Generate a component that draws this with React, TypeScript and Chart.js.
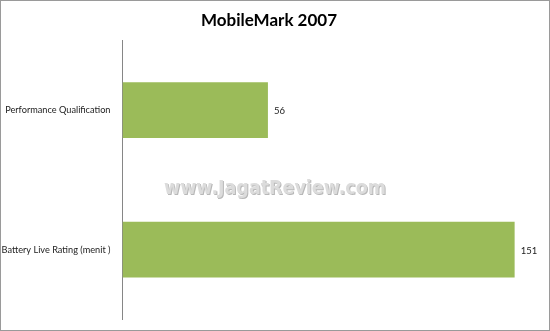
import React, { useEffect, useRef } from "react";
import { Chart, registerables } from "chart.js";

Chart.register(...registerables);

const categories = ["Performance Qualification", "Battery Live Rating (menit )"];
const values = [56, 151];
const titleText = "MobileMark 2007";
const watermarkText = "www.JagatReview.com";
const barColor = "#9BBB59";

export default function App() {
  const ref = useRef<HTMLCanvasElement | null>(null);
  useEffect(() => {
    document.body.style.margin = "0";
    const canvas = ref.current!;
    const framePlugin = {
      id: "frame",
      beforeDraw(chart: any) {
        const ctx = chart.ctx;
        ctx.save();
        ctx.fillStyle = "#ffffff";
        ctx.fillRect(0, 0, chart.width, chart.height);
        ctx.restore();
      },
      afterDraw(chart: any) {
        const ctx = chart.ctx;
        ctx.save();
        ctx.strokeStyle = "#9a9a9a";
        ctx.lineWidth = 1;
        ctx.strokeRect(0.5, 0.5, chart.width - 1, chart.height - 1);
        ctx.restore();
      },
    };
    const labelPlugin = {
      id: "valueLabels",
      afterDatasetsDraw(chart: any) {
        const ctx = chart.ctx;
        const meta = chart.getDatasetMeta(0);
        ctx.save();
        ctx.font = "9.5px Lato";
        ctx.fillStyle = "#222222";
        ctx.textAlign = "left";
        ctx.textBaseline = "middle";
        meta.data.forEach((bar: any, i: number) => {
          ctx.fillText(String(values[i]), bar.x + 6, bar.y + 1);
        });
        // watermark
        const cy = (chart.chartArea.top + chart.chartArea.bottom) / 2 + 9;
        ctx.font = "bold 19px 'DejaVu Sans'";
        ctx.textAlign = "center";
        ctx.textBaseline = "middle";
        ctx.fillStyle = "#b8b8b8";
        ctx.fillText(watermarkText, 276, cy + 1, 222);
        ctx.fillStyle = "#dcdcdc";
        ctx.fillText(watermarkText, 275, cy, 222);
        ctx.restore();
      },
    };
    const chart = new Chart(canvas, {
      type: "bar",
      data: {
        labels: categories,
        datasets: [
          {
            data: values,
            backgroundColor: barColor,
            borderWidth: 0,
            categoryPercentage: 1,
            barPercentage: 0.4,
          },
        ],
      },
      options: {
        indexAxis: "y",
        animation: false,
        responsive: false,
        layout: { padding: { top: 0, right: 12, bottom: 11.7, left: 0 } },
        plugins: {
          legend: { display: false },
          tooltip: { enabled: false },
          title: {
            display: true,
            text: titleText,
            color: "#000000",
            font: { family: "Lato", size: 17, weight: "bold" },
            padding: { top: 10, bottom: 10 },
          },
        },
        scales: {
          x: { display: false, min: 0, max: 160 },
          y: {
            grid: { display: false, drawTicks: false },
            border: { display: true, color: "#868686", width: 1 },
            ticks: { color: "#222222", font: { family: "Lato", size: 9.2 }, padding: 12 },
            afterFit(scale: any) {
              scale.width = 122.5;
              scale.paddingTop = 0;
              scale.paddingBottom = 0;
            },
          },
        },
      },
      plugins: [framePlugin, labelPlugin],
    });
    return () => chart.destroy();
  }, []);
  return <canvas ref={ref} width={550} height={331} style={{ display: "block" }} />;
}
